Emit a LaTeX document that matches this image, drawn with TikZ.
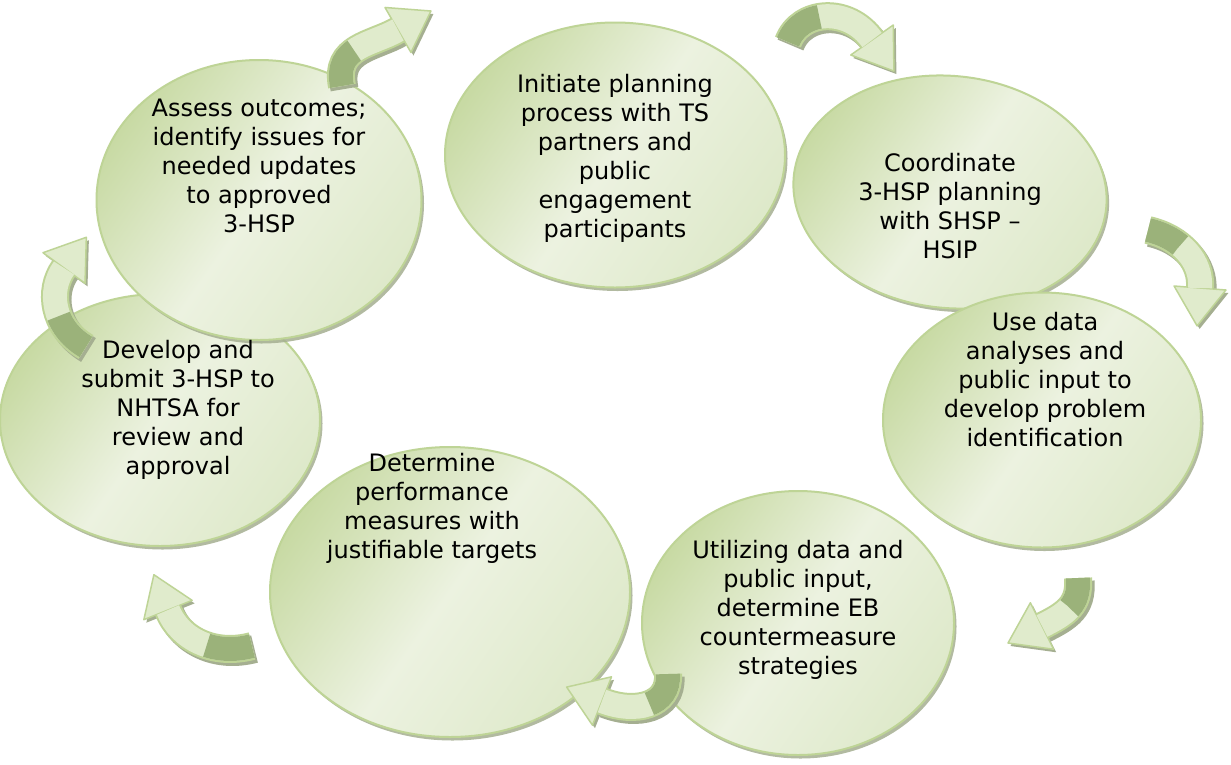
\documentclass[tikz,border=0pt]{standalone}
\usepackage{fontspec}
\setmainfont{DejaVu Sans}
\usetikzlibrary{calc,shapes.geometric,shadows}

\definecolor{gdark}{RGB}{200,218,164}
\definecolor{glight}{RGB}{236,242,224}
\definecolor{gmid}{RGB}{222,233,202}
\definecolor{gedge}{RGB}{190,212,150}
\definecolor{gshadow}{RGB}{165,175,145}
\definecolor{adark}{RGB}{155,178,122}
\definecolor{alight}{RGB}{224,235,204}

\pgfdeclarehorizontalshading{bubble}{100bp}{color(0bp)=(gdark); color(25bp)=(gdark); color(50bp)=(glight); color(75bp)=(gmid); color(100bp)=(gmid)}

\tikzset{
  bubble/.style={ellipse, draw=gedge, line width=2pt, shading=bubble, shading angle=-35,
    inner sep=0pt,
    drop shadow={shadow xshift=2.5pt, shadow yshift=-3.5pt, fill=gshadow, opacity=0.85}},
  stagetext/.style={align=center, font=\fontsize{24}{29}\selectfont, text=black, inner sep=0pt},
}

% curved block arrow through the coordinates <p>-t, <p>-a, <p>-b, <p>-e
\newcommand\cyclearrow[2]{%
  \coordinate (#1-l) at ($(#1-e)!26pt!90:(#1-b)$);
  \coordinate (#1-r) at ($(#1-e)!26pt!-90:(#1-b)$);
  \coordinate (#1-p) at ($(#1-e)!-38pt!(#1-b)$);
  \begin{scope}[transform canvas={xshift=2.5pt,yshift=-3pt}]
    \draw[gshadow, line width=28pt] (#1-t) .. controls (#1-a) and (#1-b) .. (#1-e);
    \fill[gshadow] (#1-l) -- (#1-p) -- (#1-r) -- cycle;
  \end{scope}
  \draw[gedge, line width=28pt] (#1-t) .. controls (#1-a) and (#1-b) .. (#1-e);
  \filldraw[fill=alight, draw=gedge, line width=1.5pt, line join=round]
    (#1-l) -- (#1-p) -- (#1-r) -- cycle;
  \draw[alight, line width=24pt] (#1-t) .. controls (#1-a) and (#1-b) .. (#1-e);
  \draw[adark, line width=24pt, dash pattern=on #2 off 2000pt]
    (#1-t) .. controls (#1-a) and (#1-b) .. (#1-e);
}

\begin{document}
\begin{tikzpicture}[x=1pt, y=-1pt]
\useasboundingbox (0,0) rectangle (1231,764);
\fill[white] (0,0) rectangle (1231,764);

% the seven stages
\node[bubble, minimum width=340pt, minimum height=265pt] (s1) at (615,155) {};
\node[bubble, minimum width=314pt, minimum height=232pt, rotate=-6] (s2) at (950,192) {};
\node[bubble, minimum width=318pt, minimum height=255pt] (s3) at (1042,420) {};
\node[bubble, minimum width=312pt, minimum height=264pt] (s4) at (798,623) {};
\node[bubble, minimum width=360pt, minimum height=290pt] (s5) at (450,592) {};
\node[bubble, minimum width=320pt, minimum height=252pt] (s6) at (160,420) {};
\node[bubble, minimum width=325pt, minimum height=280pt] (s7) at (259,200) {};

\node[stagetext] (t1) at (615,158) {Initiate planning\\process with TS\\partners and\\public\\engagement\\participants};
\node[stagetext] (t2) at (950,206) {Coordinate\\3-HSP planning\\with SHSP --\\HSIP};
\node[stagetext] (t3) at (1045,380) {Use data\\analyses and\\public input to\\develop problem\\identification};
\node[stagetext] (t4) at (798,610) {Utilizing data and\\public input,\\determine EB\\countermeasure\\strategies};
\node[stagetext] (t5) at (432,508) {Determine\\performance\\measures with\\justifiable targets};
\node[stagetext] (t6) at (178,410) {Develop and\\submit 3-HSP to\\NHTSA for\\review and\\approval};
\node[stagetext] (t7) at (259,166) {Assess outcomes;\\identify issues for\\needed updates\\to approved\\3-HSP};

% arrows between the stages
\coordinate (A-t) at (342,86);  \coordinate (A-a) at (334,46);
\coordinate (A-b) at (372,45);  \coordinate (A-e) at (398,30);
\coordinate (B-t) at (788,42);  \coordinate (B-a) at (800,10);
\coordinate (B-b) at (848,6);   \coordinate (B-e) at (872,40);
\coordinate (C-t) at (1148,230); \coordinate (C-a) at (1182,238);
\coordinate (C-b) at (1202,262); \coordinate (C-e) at (1200,288);
\coordinate (D-t) at (1078,578); \coordinate (D-a) at (1080,605);
\coordinate (D-b) at (1066,614); \coordinate (D-e) at (1042,626);
\coordinate (E-t) at (668,674);  \coordinate (E-a) at (670,706);
\coordinate (E-b) at (635,714);  \coordinate (E-e) at (602,701);
\coordinate (F-t) at (252,646);  \coordinate (F-a) at (215,656);
\coordinate (F-b) at (180,640);  \coordinate (F-e) at (168,610);
\coordinate (G-t) at (86,347);   \coordinate (G-a) at (52,327);
\coordinate (G-b) at (48,290);   \coordinate (G-e) at (64,268);

\cyclearrow{A}{40pt}
\cyclearrow{B}{42pt}
\cyclearrow{C}{36pt}
\cyclearrow{D}{32pt}
\cyclearrow{E}{38pt}
\cyclearrow{F}{46pt}
\cyclearrow{G}{42pt}
\end{tikzpicture}
\end{document}
